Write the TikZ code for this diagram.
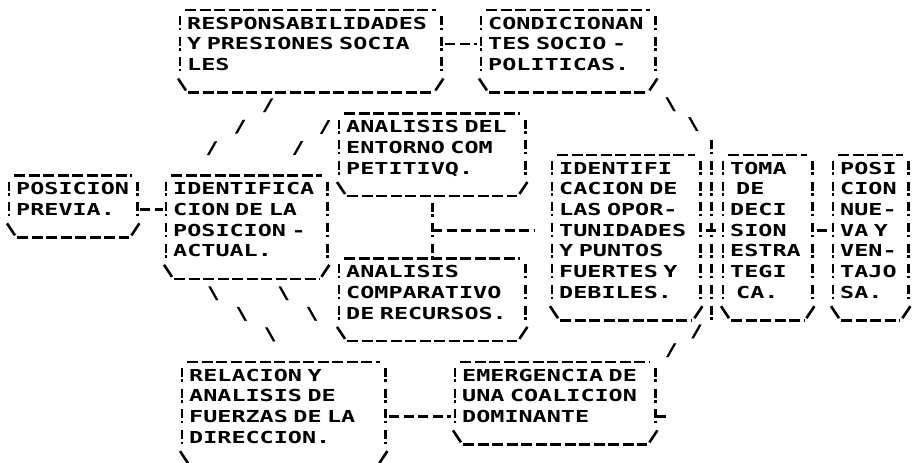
\documentclass[tikz,border=0pt]{standalone}
\usepackage{fontspec}
\usetikzlibrary{
    calc
}

\newfontfamily\dotfont{DejaVu Sans Mono}[FakeStretch=1.42]
\newfontfamily\tickfont{DejaVu Sans Mono}[FakeStretch=1.2, FakeBold=1.6]
\newcommand\dotsize{\fontsize{16.5pt}{20.7pt}\selectfont}

\tikzset{
  blok/.style={
    font=\dotfont\bfseries\dotsize,
    align=left,
    anchor=north west,
    inner xsep=7pt,
    inner ysep=7pt,
    text height=12pt,
    text depth=#1
  },
  tick/.style={font=\tickfont\bfseries\dotsize, inner sep=0pt},
  bar/.style={line width=2.6pt, dash pattern=on 11pt off 3.5pt},
  bang/.style={line width=2.6pt, dash pattern=on 9pt off 2.5pt on 2.5pt off 6.7pt},
  hyph/.style={line width=2.6pt, dash pattern=on 10pt off 4.5pt},
  corner/.style={line width=2.6pt}
}

\begin{document}
\begin{tikzpicture}[x=1pt, y=-1pt]

  \useasboundingbox (0,0) rectangle (916,463);

  % top row {{{
  \node[
    blok=56.1pt,
    text width=247pt
  ] (resp) at (180,10)
  {RESPONSABILIDADES\\Y PRESIONES SOCIA\\LES};
  \node[
    blok=56.1pt,
    text width=160pt
  ] (cond) at (481,10)
  {CONDICIONAN\\TES SOCIO -\\POLITICAS.};
  % }}}

  % middle row {{{
  \node[
    blok=56.1pt,
    text width=172pt
  ] (aed) at (339,113.5)
  {ANALISIS DEL\\ENTORNO COM\\PETITIVQ.};
  \node[
    blok=35.4pt,
    text width=114pt
  ] (prev) at (9,175.6)
  {POSICION\\PREVIA.};
  \node[
    blok=76.8pt,
    text width=147pt
  ] (actual) at (166,175.6)
  {IDENTIFICA\\CION DE LA\\POSICION -\\ACTUAL.};
  \node[
    blok=56.1pt,
    text width=172pt
  ] (recur) at (339,258.4)
  {ANALISIS\\COMPARATIVO\\DE RECURSOS.};
  \node[
    blok=138.9pt,
    text width=134pt
  ] (oport) at (552,154.9)
  {IDENTIFI\\CACION DE\\LAS OPOR-\\TUNIDADES\\Y PUNTOS\\FUERTES Y\\DEBILES.};
  \node[
    blok=138.9pt,
    text width=75pt
  ] (toma) at (723,154.9)
  {TOMA\\\hspace*{6pt}DE\\DECI\\SION\\ESTRA\\TEGI\\\hspace*{6pt}CA.};
  \node[
    blok=138.9pt,
    text width=61pt
  ] (nueva) at (833,154.9)
  {POSI\\CION\\NUE-\\VA Y\\VEN-\\TAJO\\SA.};
  % }}}

  % bottom row {{{
  \node[
    blok=76.8pt,
    text width=189pt
  ] (fuerza) at (182,361.9)
  {RELACION Y\\ANALISIS DE\\FUERZAS DE LA\\DIRECCION.};
  \node[
    blok=56.1pt,
    text width=186pt
  ] (coal) at (455,361.9)
  {EMERGENCIA DE\\UNA COALICION\\DOMINANTE};
  % }}}

  % box outlines {{{
  \foreach \b in {resp,cond,aed,prev,actual,recur,oport,toma,nueva,fuerza,coal} {
    \draw[bar] ([xshift=5pt]\b.north west) -- ([xshift=-5pt]\b.north east);
    \draw[bang] ([yshift=-6pt]\b.north west) -- ([yshift=20.7pt]\b.south west);
    \draw[bang] ([yshift=-6pt]\b.north east) -- ([yshift=20.7pt]\b.south east);
    \draw[corner] ([shift={(-2,-14)}]\b.south west) -- ([shift={(6,-2)}]\b.south west);
    \draw[bar] ([xshift=8pt]\b.south west) -- ([xshift=-8pt]\b.south east);
    \draw[corner] ([shift={(-6,-2)}]\b.south east) -- ([shift={(2,-14)}]\b.south east);
  }
  % }}}

  % dashed links {{{
  \draw[hyph, shorten <=4pt, shorten >=4pt] ([yshift=7.35pt]resp.east) -- ([yshift=7.35pt]cond.west);
  \coordinate (prevout) at ([yshift=-3pt]prev.east);
  \draw[hyph, shorten <=3pt, shorten >=3pt] (prevout) -- (prevout -| actual.west);
  \draw[hyph, shorten <=6pt, shorten >=6pt] ([yshift=7.35pt]oport.east) -- ([yshift=7.35pt]toma.west);
  \draw[hyph, shorten <=5pt, shorten >=5pt] ([yshift=7.35pt]toma.east) -- ([yshift=7.35pt]nueva.west);
  \coordinate (fuerzaout) at ([yshift=-3pt]fuerza.east);
  \draw[hyph, shorten <=4pt, shorten >=4pt] (fuerzaout) -- (fuerzaout -| coal.west);
  \coordinate (coaltail) at ($(coal.east)+(13,13.35)$);
  \draw[hyph, shorten <=1pt] ([yshift=-13.35pt]coal.east) -- (coaltail);
  \draw[bang, shorten <=6.7pt] (aed.south) -- (recur.north);
  \coordinate (split) at ($(aed.south)+(0,34.4)$);
  \draw[hyph, shorten >=18pt] (split) -- (split -| oport.west);
  % }}}

  % slash chains {{{
  \path ($(resp.south)+(-14.5,-8.6)$) -- ($(actual.north west)+(18,-6.1)$)
    node[tick, pos=.25] {/} node[tick, pos=.5] {/} node[tick, pos=.75] {/};
  \path ($(aed.north west)+(13,-7.5)$) -- ($(actual.north)+(24.5,-6.6)$)
    node[tick, pos=.333] {/} node[tick, pos=.667] {/};
  \path ($(actual.south west)+(19,-6)$) -- ($(fuerza.north)+(15,-7)$)
    node[tick, pos=.25] {\textbackslash} node[tick, pos=.5] {\textbackslash}
    node[tick, pos=.75] {\textbackslash};
  \path ($(actual.south)+(8.5,-6)$) -- ($(fuerza.north east)+(-16.5,-7)$)
    node[tick, pos=.25] {\textbackslash} node[tick, pos=.5] {\textbackslash};
  \coordinate (gaptop) at ($(oport.north east)!.5!(toma.north west)+(0,-14.7)$);
  \coordinate (gapbot) at ($(oport.south east)!.5!(toma.south west)$);
  \path ($(cond.south east)+(-5,-6)$) -- (gaptop)
    node[tick, pos=.33] {\textbackslash} node[tick, pos=.7] {\textbackslash};
  \draw[bang] (gaptop) -- (gapbot);
  \path (gapbot) -- (coal.north east)
    node[tick, pos=.27] {/} node[tick, pos=.72] {/};
  % }}}

\end{tikzpicture}
\end{document}
